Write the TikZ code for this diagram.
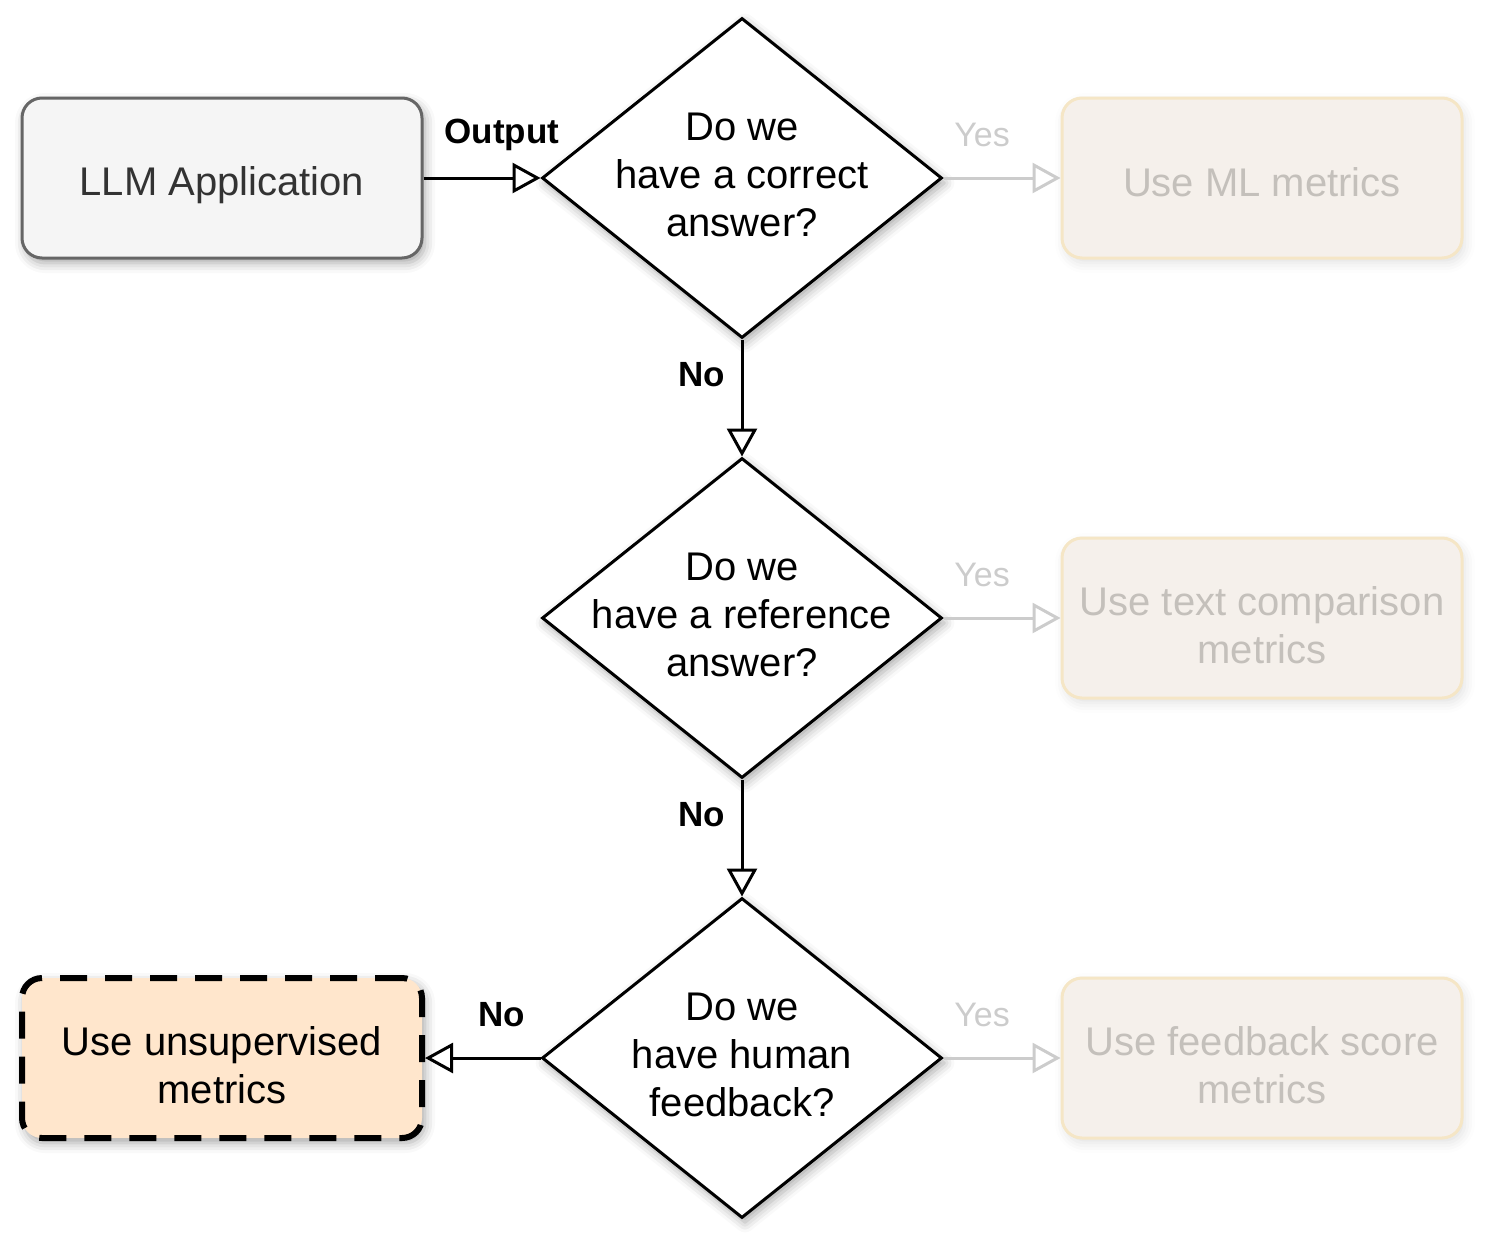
\documentclass[tikz,border=0pt]{standalone}
\usepackage{fontspec}
\setmainfont{Liberation Sans}
\usetikzlibrary{shapes.geometric,arrows.meta,shadows.blur}
\definecolor{llmfill}{HTML}{F5F5F5}
\definecolor{llmdraw}{HTML}{666666}
\definecolor{llmtext}{HTML}{333333}
\definecolor{unsfill}{HTML}{FFE6CC}
\definecolor{fadefill}{HTML}{F5F0EB}
\definecolor{fadedraw}{HTML}{F5E6C6}
\definecolor{fadetext}{HTML}{C4C0BB}
\definecolor{yesgray}{HTML}{CCCCCC}
\newcommand\myup{\rule{0pt}{22pt}}
\begin{document}
\begin{tikzpicture}[x=0.5pt,y=-0.5pt,
  mainfont/.style={font=\fontsize{20}{24}\selectfont},
  shad/.style={blur shadow={shadow xshift=1.5pt, shadow yshift=-2.5pt, shadow blur radius=5pt, shadow opacity=35}},
  faintshad/.style={blur shadow={shadow xshift=1.5pt, shadow yshift=-2.5pt, shadow blur radius=5pt, shadow opacity=12}},
  box/.style={rectangle, rounded corners=10pt, minimum width=200pt, minimum height=80pt, inner sep=0pt, align=center, mainfont},
  llmbox/.style={box, draw=llmdraw, fill=llmfill, text=llmtext, line width=1.5pt, shad},
  fadebox/.style={box, draw=fadedraw, fill=fadefill, text=fadetext, line width=1.5pt, faintshad},
  unsbox/.style={box, draw=black, fill=unsfill, line width=3pt, dash pattern=on 13.5pt off 9pt, shad},
  decision/.style={diamond, draw=black, fill=white, line width=1.5pt, minimum width=200pt, minimum height=160pt, inner sep=0pt, shad},
  dtext/.style={align=center, mainfont, inner sep=0pt},
  conn/.style={draw=black, line width=1.5pt, -{Triangle[open, length=14pt, width=15pt]}},
  yesconn/.style={draw=yesgray, line width=1.5pt, -{Triangle[open, length=14pt, width=15pt]}},
  nolabel/.style={font=\fontsize{17.5}{21}\selectfont\bfseries, inner sep=0pt},
  yeslabel/.style={font=\fontsize{17}{20}\selectfont, text=yesgray, inner sep=0pt}
]
\useasboundingbox (0,0) rectangle (1488,1248);

% nodes
\node[llmbox] (llm) at (222,178) {\myup LLM Application};
\node[decision] (d1) at (742,178) {};
\node[dtext] (t1) at (742,175) {Do we\\have a correct\\answer?};
\node[decision] (d2) at (742,618) {};
\node[dtext] (t2) at (742,615) {Do we\\have a reference\\answer?};
\node[decision] (d3) at (742,1058) {};
\node[dtext] (t3) at (742,1055) {Do we\\have human\\feedback?};
\node[fadebox] (r1) at (1262,178) {\rule{0pt}{19pt}Use ML metrics};
\node[fadebox] (r2) at (1262,618) {\myup Use text comparison\\metrics};
\node[fadebox] (r3) at (1262,1058) {\myup Use feedback score\\metrics};
\node[unsbox] (uns) at (222,1058) {\myup Use unsupervised\\metrics};

% connectors
\draw[conn] (llm.east) -- (d1.west);
\draw[conn] (d1.south) -- (d2.north);
\draw[conn] (d2.south) -- (d3.north);
\draw[conn] (d3.west) -- (uns.east);
\draw[yesconn] (d1.east) -- (r1.west);
\draw[yesconn] (d2.east) -- (r2.west);
\draw[yesconn] (d3.east) -- (r3.west);

% labels
\node[nolabel] (lout) at (502,135) {Output};
\node[nolabel] (lno1) at (702,375) {No};
\node[nolabel] (lno2) at (702,815) {No};
\node[nolabel] (lno3) at (502,1015) {No};
\node[yeslabel] (ly1) at (982,135) {Yes};
\node[yeslabel] (ly2) at (982,575) {Yes};
\node[yeslabel] (ly3) at (982,1015) {Yes};
\end{tikzpicture}
\end{document}
